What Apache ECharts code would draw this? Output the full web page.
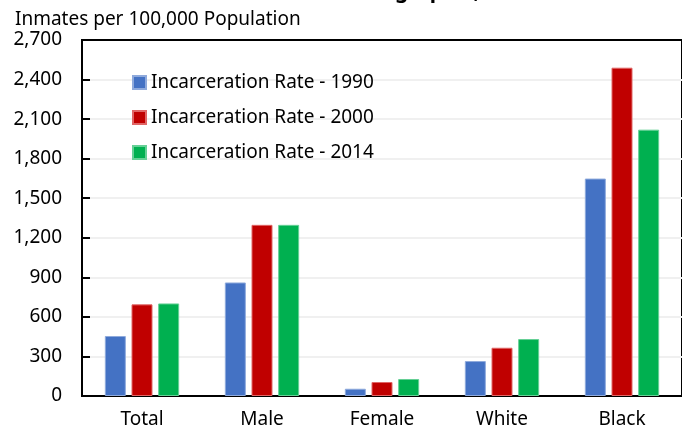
<!DOCTYPE html>
<html>
<head>
<meta charset="utf-8">
<script src="https://cdn.jsdelivr.net/npm/echarts@6/dist/echarts.min.js"></script>
<style>
  html, body { margin: 0; padding: 0; background: #fff; }
  #chart { width: 682px; height: 429px; }
</style>
</head>
<body>
<div id="chart"></div>
<script>
// Categories and tick labels
const categories = ['Total', 'Male', 'Female', 'White', 'Black']
const seriesNames = ['Incarceration Rate - 1990', 'Incarceration Rate - 2000', 'Incarceration Rate - 2014']

// Inmates per 100,000 population
const rate1990 = [455, 861, 55, 265, 1649]
const rate2000 = [695, 1298, 106, 366, 2490]
const rate2014 = [702, 1298, 129, 432, 2020]

const colors = ['#4472C4', '#C00000', '#00B050']
const borders = ['#8FAADC', '#E06666', '#66D096']

const font = '"Noto Sans", sans-serif'

const chart = echarts.init(document.getElementById('chart'))

const makeBar = (name, data, i) => ({
  name: name,
  type: 'bar',
  barWidth: 21,
  barGap: '27%',
  itemStyle: {
    color: colors[i],
    borderColor: borders[i],
    borderWidth: 1
  },
  emphasis: { disabled: true },
  data: data
})

chart.setOption({
  animation: false,
  color: colors,
  textStyle: { fontFamily: font },
  title: [
    {
      // chart title, cut off by the top edge in the reference
      text: 'Incarceration Rates for Each Demographic, 1990-2014',
      right: 94,
      top: -18,
      padding: 0,
      textStyle: { fontFamily: font, fontSize: 21, fontWeight: 'bold', color: '#000', lineHeight: 21 }
    },
    {
      text: 'Inmates per 100,000 Population',
      left: 10,
      top: 5,
      textStyle: { fontFamily: font, fontSize: 19, fontWeight: 'normal', color: '#000' }
    }
  ],
  legend: {
    orient: 'vertical',
    left: 127,
    top: 68,
    itemWidth: 13,
    itemHeight: 13,
    itemGap: 16,
    icon: 'rect',
    data: seriesNames,
    textStyle: { fontFamily: font, fontSize: 19, color: '#000' }
  },
  grid: {
    left: 82,
    right: -10,
    top: 40,
    bottom: 33,
    show: true,
    borderColor: '#000',
    borderWidth: 2,
    containLabel: false
  },
  xAxis: [
    {
      type: 'category',
      data: categories,
      axisLine: { lineStyle: { color: '#000', width: 2 } },
      axisTick: { inside: true, length: 6, lineStyle: { color: '#000', width: 2 } },
      axisLabel: { color: '#000', fontSize: 19, margin: 14, fontFamily: font }
    },
    {
      // top frame line
      type: 'category',
      position: 'top',
      data: categories,
      axisLine: { lineStyle: { color: '#000', width: 2 } },
      axisTick: { show: false },
      axisLabel: { show: false }
    }
  ],
  yAxis: {
    type: 'value',
    min: 0,
    max: 2700,
    interval: 300,
    axisLine: { show: true, lineStyle: { color: '#000', width: 2 } },
    axisTick: { show: true, inside: true, length: 8, lineStyle: { color: '#000', width: 2 } },
    axisLabel: {
      color: '#000',
      fontSize: 19,
      margin: 20,
      fontFamily: font,
      formatter: v => v.toLocaleString('en-US')
    },
    splitLine: { showMaxLine: false, showMinLine: false, lineStyle: { color: '#F0F0F0', width: 2 } }
  },
  series: [
    makeBar(seriesNames[0], rate1990, 0),
    makeBar(seriesNames[1], rate2000, 1),
    makeBar(seriesNames[2], rate2014, 2)
  ]
})
</script>
</body>
</html>
